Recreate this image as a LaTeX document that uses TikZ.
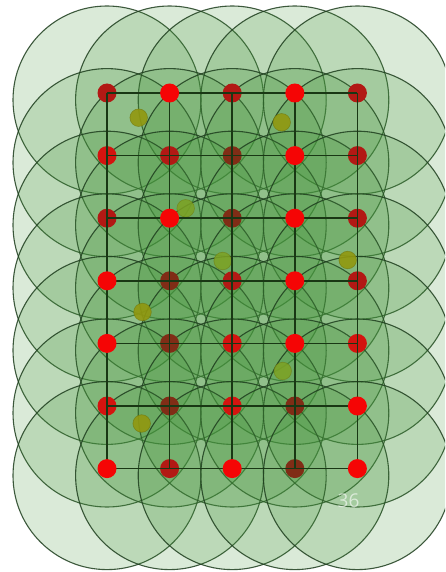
\documentclass[tikz,border=0pt]{standalone}
\usepackage{fontspec}
\newfontfamily\numfont{Open Sans}
\definecolor{cfill}{RGB}{70,150,60}
\definecolor{cline}{RGB}{30,62,30}
\definecolor{gridc}{RGB}{25,55,20}
\definecolor{rbright}{RGB}{245,5,5}
\definecolor{rmed}{RGB}{212,20,15}
\definecolor{rdark}{RGB}{178,25,20}
\definecolor{rbrown}{RGB}{128,45,22}
\definecolor{oliv}{RGB}{145,152,15}
\definecolor{olivg}{RGB}{125,162,35}
\definecolor{olivd}{RGB}{110,115,10}
\tikzset{
  zone/.style={fill=cfill, fill opacity=0.2, draw=cline, draw opacity=0.85, line width=1.1pt},
  gridline/.style={draw=gridc, line width=1.6pt},
  dotb/.style={fill=rbright},
  dotm/.style={fill=rmed},
  dotd/.style={fill=rdark},
  dotr/.style={fill=rbrown},
  olivedot/.style={fill=oliv, draw=olivd, line width=0.6pt, fill opacity=0.9, draw opacity=0.6},
  olivegreen/.style={fill=olivg, draw=olivd, line width=0.6pt, fill opacity=0.85, draw opacity=0.5},
}
\begin{document}
\begin{tikzpicture}[x=1pt,y=-1pt]
\useasboundingbox (0,0) rectangle (445,572);
\fill[white] (0,0) rectangle (445,572);
\begin{scope}
\clip (0,0) rectangle (445,572);
% grid positions
\foreach \c in {1,...,5}{
  \foreach \r in {1,...,7}{
    \coordinate (p-\c-\r) at ({107+62.6*(\c-1)},{93+62.6*(\r-1)});
  }
}
% coverage circles
\foreach \r in {1,...,7}{
  \foreach \c in {1,...,5}{
    \filldraw[zone] ({107+62.6*(\c-1)},{100+62.6*(\r-1)}) circle[radius=94pt];
  }
}
% dots lying under the grid lines
\foreach \c/\r/\s in {1/1/dotd,3/1/dotd,5/1/dotd,
                      1/2/dotm,2/2/dotd,3/2/dotr,5/2/dotd,
                      1/3/dotd,3/3/dotr,5/3/dotd,
                      2/4/dotr,3/4/dotd,5/4/dotd,
                      2/5/dotr,3/5/dotm,5/5/dotm,
                      1/6/dotm,2/6/dotr,3/6/dotm,4/6/dotr,
                      2/7/dotd,4/7/dotr}{
  \fill[\s] (p-\c-\r) circle[radius=9.5pt];
}
% olive dots
\filldraw[olivedot] (138.7,117.7) circle[radius=8.8pt];
\filldraw[olivedot] (281.7,122.3) circle[radius=8.8pt];
\filldraw[olivegreen] (185.7,208.3) circle[radius=8.8pt];
\filldraw[olivegreen] (222.7,261) circle[radius=8.8pt];
\filldraw[olivedot] (347.7,260) circle[radius=8.8pt];
\filldraw[olivedot] (142.5,312) circle[radius=8.8pt];
\filldraw[olivegreen] (282.7,371) circle[radius=8.8pt];
\filldraw[olivedot] (141.7,423.5) circle[radius=8.8pt];
% grid lines
\foreach \r in {1,...,7}{ \draw[gridline] (p-1-\r) -- (p-5-\r); }
\foreach \c in {1,...,5}{ \draw[gridline] (p-\c-1) -- (p-\c-7); }
% dots on top
\foreach \c/\r in {2/1,4/1,4/2,2/3,4/3,1/4,4/4,1/5,4/5,5/6,1/7,3/7,5/7}{
  \fill[dotb] (p-\c-\r) circle[radius=9.5pt];
}
\end{scope}
\node[text=white, text opacity=0.6, font=\numfont\fontsize{19}{19}\selectfont, inner sep=0pt] (lbl) at (348.5,500.5) {36};
\end{tikzpicture}
\end{document}
